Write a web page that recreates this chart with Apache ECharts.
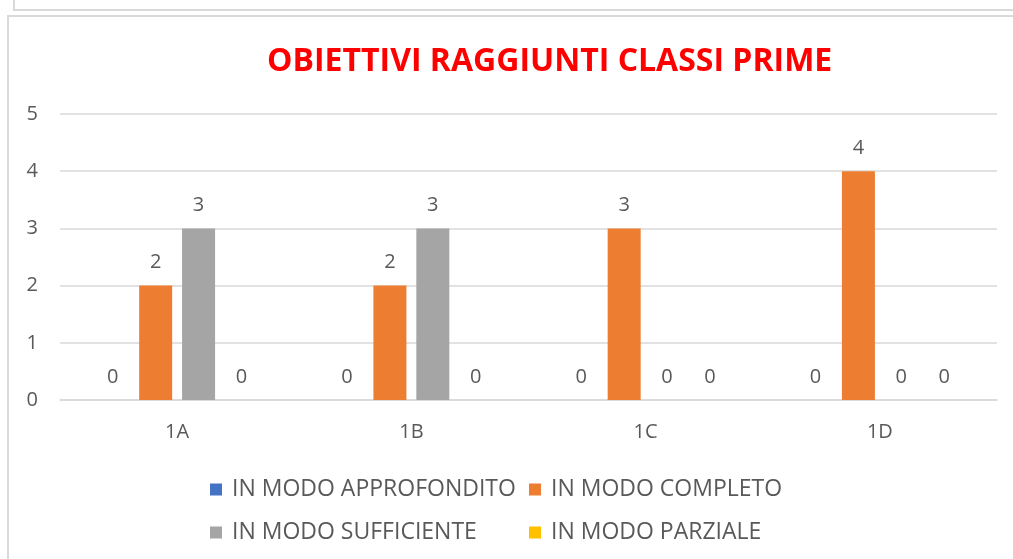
<!DOCTYPE html>
<html>
<head>
<meta charset="utf-8">
<script src="https://cdn.jsdelivr.net/npm/echarts@6/dist/echarts.min.js"></script>
<style>
  html, body { margin: 0; padding: 0; background: #fff; }
  #chart { width: 1013px; height: 559px; }
</style>
</head>
<body>
<div id="chart"></div>
<script>
var classi = ['1A', '1B', '1C', '1D'];
var nomiSerie = ['IN MODO APPROFONDITO', 'IN MODO COMPLETO', 'IN MODO SUFFICIENTE', 'IN MODO PARZIALE'];
var approfondito = [0, 0, 0, 0];
var completo = [2, 2, 3, 4];
var sufficiente = [3, 3, 0, 0];
var parziale = [0, 0, 0, 0];
var colori = ['#4472C4', '#ED7D31', '#A5A5A5', '#FFC000'];

function init() {
    var myChart = echarts.init(document.getElementById('chart'));
    var font = 'Open Sans';
    var grigio = '#595959';
    var valori = [approfondito, completo, sufficiente, parziale];

    var series = [];
    for (var i = 0; i < nomiSerie.length; i++) {
        series.push({
            name: nomiSerie[i],
            type: 'bar',
            data: valori[i],
            barWidth: 33,
            barGap: '30%',
            itemStyle: { color: colori[i] },
            label: {
                show: true,
                position: 'top',
                distance: 13,
                color: grigio,
                fontFamily: font,
                fontSize: 20
            }
        });
    }

    // legend laid out like the original, two rows in two columns
    var legendPos = [[205, 473], [524, 473], [205, 516], [524, 516]];
    var legends = [];
    for (var k = 0; k < nomiSerie.length; k++) {
        legends.push({
            data: [nomiSerie[k]],
            left: legendPos[k][0],
            top: legendPos[k][1],
            itemWidth: 12,
            itemHeight: 12,
            icon: 'rect',
            textStyle: {
                color: grigio,
                fontFamily: font,
                fontSize: 23,
                padding: [0, 0, 0, 5]
            }
        });
    }

    myChart.setOption({
        backgroundColor: '#fff',
        animation: false,
        title: {
            text: 'OBIETTIVI RAGGIUNTI CLASSI PRIME',
            left: 262,
            top: 41,
            textStyle: {
                color: '#FF0000',
                fontFamily: font,
                fontWeight: 'bold',
                fontSize: 32
            }
        },
        graphic: [
            {
                type: 'rect',
                shape: { x: 14, y: -20, width: 1030, height: 30 },
                style: { fill: 'none', stroke: '#d9d9d9', lineWidth: 2 }
            },
            {
                type: 'rect',
                shape: { x: 8, y: 16, width: 1030, height: 600 },
                style: { fill: 'none', stroke: '#d9d9d9', lineWidth: 2 }
            }
        ],
        legend: legends,
        grid: {
            left: 60,
            right: 16,
            top: 114,
            bottom: 159,
            containLabel: false
        },
        xAxis: {
            type: 'category',
            data: classi,
            axisLine: { lineStyle: { color: '#d9d9d9', width: 1.5 } },
            axisTick: { show: false },
            axisLabel: {
                color: grigio,
                fontFamily: font,
                fontSize: 20,
                margin: 22
            }
        },
        yAxis: {
            type: 'value',
            min: 0,
            max: 5,
            interval: 1,
            axisLine: { show: false },
            axisTick: { show: false },
            splitLine: { lineStyle: { color: '#d9d9d9', width: 1.5 } },
            axisLabel: {
                color: grigio,
                fontFamily: font,
                fontSize: 20,
                margin: 22
            }
        },
        series: series
    });
}
document.addEventListener('DOMContentLoaded', init);
</script>
</body>
</html>
